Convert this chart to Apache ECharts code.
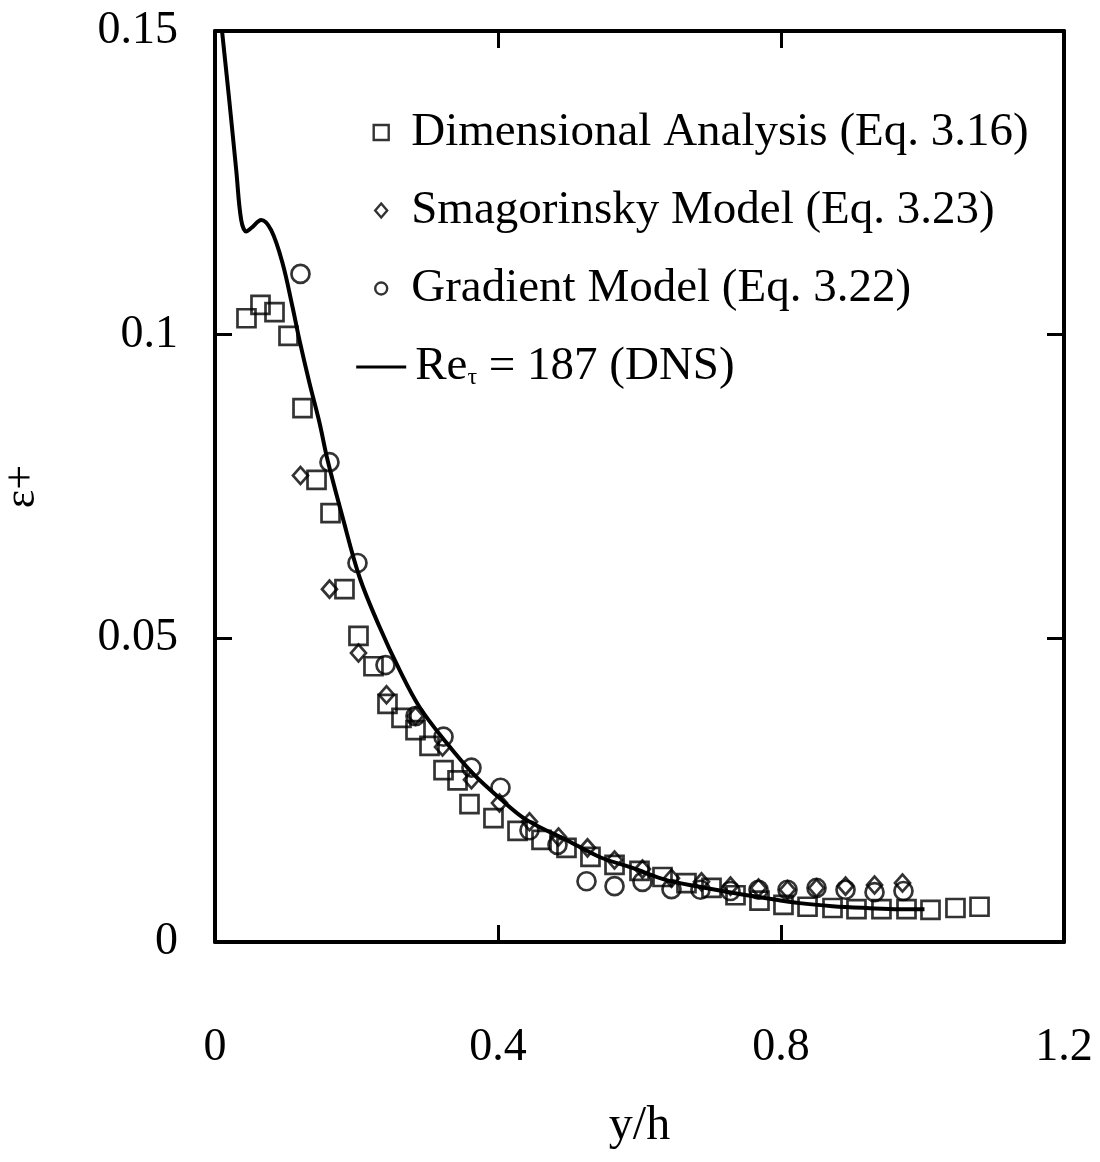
<!DOCTYPE html>
<html><head><meta charset="utf-8">
<script src="https://cdn.jsdelivr.net/npm/echarts@6/dist/echarts.min.js"></script>
<style>html,body{margin:0;padding:0;background:#fff}#c{width:1100px;height:1162px}</style>
</head><body><div id="c"></div>
<script>
// ---- data ----
const seriesNames = ['Dimensional Analysis (Eq. 3.16)', 'Smagorinsky Model (Eq. 3.23)', 'Gradient Model (Eq. 3.22)', 'Re_tau = 187 (DNS)'];

const squareX = [0.0445,0.0643,0.0841,0.1039,0.1237,0.1435,0.1633,0.1830,0.2028,0.2240,0.2438,0.2636,0.2834,0.3032,0.3230,0.3428,0.3597,0.3936,0.4276,0.4615,0.4968,0.5307,0.5647,0.6000,0.6325,0.6664,0.7018,0.7357,0.7696,0.8035,0.8375,0.8728,0.9067,0.9420,0.9774,1.0113,1.0466,1.0806];
const squareY = [0.1027,0.1049,0.1037,0.0998,0.0879,0.0761,0.0706,0.0581,0.0504,0.0454,0.0392,0.0369,0.0349,0.0323,0.0283,0.0266,0.0227,0.0204,0.0183,0.0168,0.0155,0.0140,0.0127,0.0117,0.0107,0.0097,0.0089,0.0077,0.0068,0.0061,0.0058,0.0056,0.0054,0.0054,0.0054,0.0053,0.0056,0.0058];

const diamondX = [0.1208,0.1618,0.2028,0.2424,0.2834,0.3216,0.3625,0.4021,0.4445,0.4855,0.5265,0.5647,0.6042,0.6452,0.6876,0.7286,0.7682,0.8092,0.8502,0.8912,0.9322,0.9717];
const diamondY = [0.0768,0.0581,0.0476,0.0407,0.0372,0.0321,0.0267,0.0229,0.0198,0.0173,0.0155,0.0135,0.0120,0.0105,0.0099,0.0092,0.0089,0.0086,0.0089,0.0092,0.0094,0.0097];

const circleX = [0.1208,0.1618,0.2014,0.2410,0.2834,0.3230,0.3625,0.4035,0.4445,0.4841,0.5251,0.5647,0.6042,0.6452,0.6862,0.7286,0.7682,0.8092,0.8502,0.8912,0.9322,0.9731];
const circleY = [0.1100,0.0790,0.0624,0.0456,0.0372,0.0338,0.0287,0.0254,0.0184,0.0160,0.0100,0.0092,0.0099,0.0087,0.0086,0.0084,0.0086,0.0086,0.0089,0.0086,0.0082,0.0084];

const dnsX = [0.0102,0.0205,0.0300,0.0370,0.0441,0.0516,0.0653,0.0794,0.0954,0.1095,0.1194,0.1336,0.1477,0.1590,0.1802,0.2042,0.2325,0.2608,0.2890,0.3272,0.3640,0.4021,0.4403,0.4968,0.5435,0.5901,0.6382,0.6848,0.7314,0.7795,0.8262,0.8728,0.9208,0.9675,1.0028];
const dnsY = [0.1497,0.1382,0.1271,0.1189,0.1170,0.1176,0.1189,0.1172,0.1118,0.1046,0.0991,0.0920,0.0855,0.0794,0.0700,0.0601,0.0519,0.0448,0.0387,0.0328,0.0278,0.0237,0.0201,0.0168,0.0140,0.0122,0.0102,0.0091,0.0081,0.0072,0.0064,0.0059,0.0056,0.0054,0.0054];

const xMin = 0, xMax = 1.2, xStep = 0.4;
const yMin = 0, yMax = 0.15, yStep = 0.05;
const xTickLabels = ['0','0.4','0.8','1.2'];
const yTickLabels = ['0','0.05','0.1','0.15'];
const xTitle = 'y/h';
const yTitle = 'ε+';

// ---- chart ----
const FONT = "'Liberation Serif','DejaVu Serif',serif";
const zip = (xs, ys) => xs.map((x, i) => [x, ys[i]]);
const chart = echarts.init(document.getElementById('c'), null, {renderer: 'canvas'});

const axisLine = {show: true, onZero: false, lineStyle: {color: '#000', width: 4}};
const axisTick = {show: true, inside: true, length: 17, lineStyle: {color: '#000', width: 3}};
const markerStyle = {color: 'rgba(255,255,255,0)', borderColor: '#000', borderWidth: 2.7};
const legendMarker = {color: 'rgba(255,255,255,0)', borderColor: '#000', borderWidth: 2.4};

// legend icons: shapes inside a 50x16 box (first two moveTo points fix the box)
const iconSquare = 'path://M0,0M50,16M17.5,0.5L32.5,0.5L32.5,15.5L17.5,15.5Z';
const iconDiamond = 'path://M0,0M50,16M25,1L31,8L25,15L19,8Z';
const iconCircle = 'path://M0,0M50,16M31,8A6,6,0,1,1,19,8A6,6,0,1,1,31,8Z';
const iconLine = 'path://M0,0M50,16M0,7L50,7L50,10L0,10Z';

chart.setOption({
  backgroundColor: '#fff',
  animation: false,
  grid: {left: 215, right: 36, top: 31, bottom: 220, containLabel: false, outerBoundsMode: 'none'},
  xAxis: [
    {type: 'value', min: xMin, max: xMax, interval: xStep, position: 'bottom',
     axisLine, axisTick, splitLine: {show: false},
     axisLabel: {margin: 83, fontSize: 46, color: '#000', fontFamily: FONT,
       formatter: (v) => xTickLabels[Math.round((v - xMin) / xStep)]},
     name: xTitle, nameLocation: 'middle', nameGap: 160,
     nameTextStyle: {fontSize: 48, color: '#000', fontFamily: FONT}},
    {type: 'value', min: xMin, max: xMax, interval: xStep, position: 'top',
     axisLine, axisTick, splitLine: {show: false}, axisLabel: {show: false}}
  ],
  yAxis: [
    {type: 'value', min: yMin, max: yMax, interval: yStep, position: 'left',
     axisLine, axisTick, splitLine: {show: false},
     axisLabel: {margin: 37, fontSize: 46, color: '#000', fontFamily: FONT,
       formatter: (v) => yTickLabels[Math.round((v - yMin) / yStep)]},
     name: yTitle, nameLocation: 'middle', nameGap: 171, nameRotate: 90,
     nameTextStyle: {fontSize: 44, color: '#000', fontFamily: FONT}},
    {type: 'value', min: yMin, max: yMax, interval: yStep, position: 'right',
     axisLine, axisTick, splitLine: {show: false}, axisLabel: {show: false}}
  ],
  legend: {
    orient: 'vertical', left: 350, top: 104, itemWidth: 50, itemHeight: 16, itemGap: 31,
    data: [
      {name: seriesNames[0], icon: iconSquare, itemStyle: legendMarker},
      {name: seriesNames[1], icon: iconDiamond, itemStyle: legendMarker},
      {name: seriesNames[2], icon: iconCircle, itemStyle: legendMarker},
      {name: seriesNames[3], icon: iconLine, itemStyle: {color: '#000', borderWidth: 0}}
    ],
    textStyle: {fontSize: 47, color: '#000', fontFamily: FONT,
      rich: {
        f: {fontSize: 47, fontFamily: FONT, color: '#000', padding: [0, 0, 0, 4]},
        n: {fontSize: 47, fontFamily: FONT, color: '#000'},
        s: {fontSize: 24, fontFamily: FONT, color: '#000', verticalAlign: 'bottom', padding: [18, 0, 0, 0]}
      }},
    formatter: (name) => name === seriesNames[3] ? '{f|Re}{s|τ}{n| = 187 (DNS)}' : name
  },
  series: [
    {name: seriesNames[0], type: 'scatter', symbol: 'rect', symbolSize: 18,
     itemStyle: markerStyle, data: zip(squareX, squareY), z: 3},
    {name: seriesNames[1], type: 'scatter', symbol: 'diamond', symbolSize: [15, 17],
     itemStyle: markerStyle, data: zip(diamondX, diamondY), z: 3},
    {name: seriesNames[2], type: 'scatter', symbol: 'circle', symbolSize: 18,
     itemStyle: markerStyle, data: zip(circleX, circleY), z: 3},
    {name: seriesNames[3], type: 'line', symbol: 'none', smooth: 0.35, clip: true,
     lineStyle: {color: '#000', width: 4}, itemStyle: {color: '#000'},
     data: zip(dnsX, dnsY), z: 4}
  ]
});
</script></body></html>
